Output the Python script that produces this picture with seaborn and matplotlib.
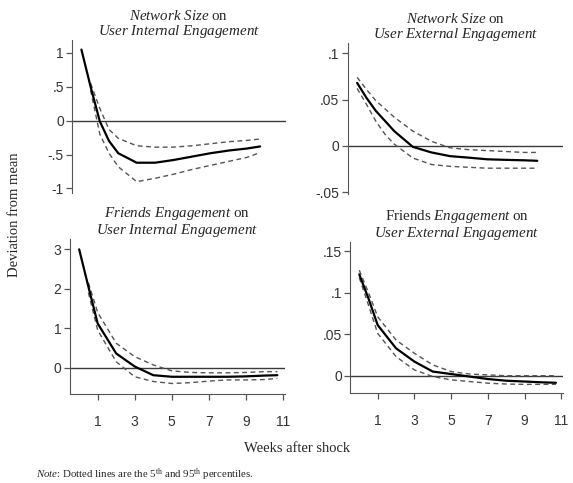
import numpy as np
import pandas as pd
import matplotlib
matplotlib.use("Agg")
import matplotlib.pyplot as plt
import seaborn as sns

#### Data
weeks_top = [0, 0.5, 1, 1.5, 2, 3, 4, 5, 6, 7, 8, 9, 9.7]
weeks_bottom = [0, 0.5, 1, 2, 3, 4, 5, 6, 7, 8, 9, 10, 10.7]

# Network Size -> User Internal Engagement
size_int = [1.05, 0.5, -0.01, -0.3, -0.48, -0.62, -0.62, -0.58, -0.53, -0.48, -0.44, -0.41, -0.38]
size_int_hi = [np.nan, 0.55, 0.18, -0.13, -0.26, -0.37, -0.39, -0.39, -0.37, -0.34, -0.31, -0.29, -0.27]
size_int_lo = [np.nan, 0.45, -0.2, -0.48, -0.68, -0.9, -0.85, -0.79, -0.72, -0.66, -0.6, -0.54, -0.47]

# Network Size -> User External Engagement
size_ext = [0.068, 0.052, 0.038, 0.027, 0.016, -0.001, -0.007, -0.011, -0.0126, -0.0144, -0.015, -0.0155, -0.016]
size_ext_hi = [0.074, 0.061, 0.049, 0.04, 0.031, 0.016, 0.005, -0.002, -0.004, -0.005, -0.006, -0.007, -0.007]
size_ext_lo = [0.062, 0.045, 0.027, 0.0126, 0.002, -0.013, -0.02, -0.022, -0.023, -0.024, -0.024, -0.024, -0.024]

# Friends Engagement -> User Internal Engagement
friends_int = [3.0, 2.05, 1.12, 0.36, 0.03, -0.19, -0.23, -0.23, -0.23, -0.23, -0.22, -0.2, -0.19]
friends_int_hi = [np.nan, 2.15, 1.4, 0.62, 0.28, 0.07, -0.08, -0.12, -0.13, -0.13, -0.12, -0.1, -0.1]
friends_int_lo = [np.nan, 1.9, 0.95, 0.15, -0.23, -0.35, -0.4, -0.38, -0.34, -0.31, -0.31, -0.3, -0.27]

# Friends Engagement -> User External Engagement
friends_ext = [0.122, 0.093, 0.061, 0.033, 0.017, 0.005, 0.002, -0.001, -0.004, -0.006, -0.007, -0.008, -0.0085]
friends_ext_hi = [0.127, 0.1, 0.071, 0.043, 0.027, 0.013, 0.005, 0.002, 0.001, 0.0, 0.0, 0.0, 0.0]
friends_ext_lo = [0.118, 0.085, 0.051, 0.023, 0.007, -0.001, -0.005, -0.007, -0.009, -0.01, -0.0104, -0.0104, -0.0104]

titles = [
    r"$\it{Network\ Size}$ on" + "\n" + r"$\it{User\ Internal\ Engagement}$",
    r"$\it{Network\ Size}$ on" + "\n" + r"$\it{User\ External\ Engagement}$",
    r"$\it{Friends\ Engagement}$ on" + "\n" + r"$\it{User\ Internal\ Engagement}$",
    r"Friends $\it{Engagement}$ on" + "\n" + r"$\it{User\ External\ Engagement}$",
]
yticks = [[-1, -0.5, 0, 0.5, 1], [-0.05, 0, 0.05, 0.1], [0, 1, 2, 3], [0, 0.05, 0.1, 0.15]]
yticklabels = [["-1", "-.5", "0", ".5", "1"], ["-.05", "0", ".05", ".1"],
               ["0", "1", "2", "3"], ["0", ".05", ".1", ".15"]]
ylims = [(-1.07, 1.19), (-0.052, 0.111), (-0.67, 3.26), (-0.021, 0.161)]
xticks = [1, 3, 5, 7, 9, 11]

panels = [
    (weeks_top, size_int, size_int_hi, size_int_lo),
    (weeks_top, size_ext, size_ext_hi, size_ext_lo),
    (weeks_bottom, friends_int, friends_int_hi, friends_int_lo),
    (weeks_bottom, friends_ext, friends_ext_hi, friends_ext_lo),
]

#### Style
sns.set_style("ticks")
plt.rcParams['font.family'] = ['Liberation Serif', 'DejaVu Serif']
plt.rcParams['mathtext.fontset'] = 'custom'
plt.rcParams['mathtext.rm'] = 'Liberation Serif'
plt.rcParams['mathtext.it'] = 'Liberation Serif:italic'

fig = plt.figure(figsize=(5.73, 4.83), dpi=100)
boxes = [
    [0.126, 0.600, 0.373, 0.317],
    [0.607, 0.598, 0.376, 0.313],
    [0.122, 0.184, 0.375, 0.321],
    [0.611, 0.186, 0.372, 0.313],
]

for i, (box, (wk, mid, hi, lo)) in enumerate(zip(boxes, panels)):
    ax = fig.add_axes(box)
    df = pd.DataFrame({"week": wk, "mid": mid, "hi": hi, "lo": lo})
    ax.axhline(0, color="#3a3a3a", lw=1.0, zorder=1)
    sns.lineplot(data=df, x="week", y="hi", ax=ax, color="#555555", lw=1.0,
                 linestyle=(0, (3.5, 2.5)))
    sns.lineplot(data=df, x="week", y="lo", ax=ax, color="#555555", lw=1.0,
                 linestyle=(0, (3.5, 2.5)))
    sns.lineplot(data=df, x="week", y="mid", ax=ax, color="black", lw=1.6)

    ax.set_xlim(-0.5, 11.1)
    ax.set_ylim(*ylims[i])
    ax.set_yticks(yticks[i])
    ax.set_yticklabels(yticklabels[i], family="Liberation Sans", fontsize=10, color="#333333")
    ax.set_xlabel("")
    ax.set_ylabel("")
    ax.set_title(titles[i], fontsize=10.8, pad=3, linespacing=1.0)
    ax.spines["top"].set_visible(False)
    ax.spines["right"].set_visible(False)
    ax.spines["left"].set_color("#555555")
    ax.spines["bottom"].set_color("#555555")
    ax.tick_params(axis="both", length=4, width=0.9, color="#555555", pad=2)
    if i < 2:
        ax.spines["bottom"].set_visible(False)
        ax.set_xticks([])
    else:
        ax.set_xticks(xticks)
        ax.set_xticklabels([str(t) for t in xticks], family="Liberation Sans",
                           fontsize=10, color="#333333")
        ax.tick_params(axis="x", pad=11)

fig.text(0.026, 1 - 215 / 483, "Deviation from mean", rotation=90,
         ha="center", va="center", fontsize=10.5)
fig.text(297 / 573, 1 - 448 / 483, "Weeks after shock", ha="center", va="center", fontsize=10.5)
fig.text(36 / 573, 1 - 475 / 483,
         r"$\it{Note}$: Dotted lines are the 5$^{\rm th}$ and 95$^{\rm th}$ percentiles.",
         ha="left", va="center", fontsize=7.8)

plt.savefig("out.png", dpi=100)
